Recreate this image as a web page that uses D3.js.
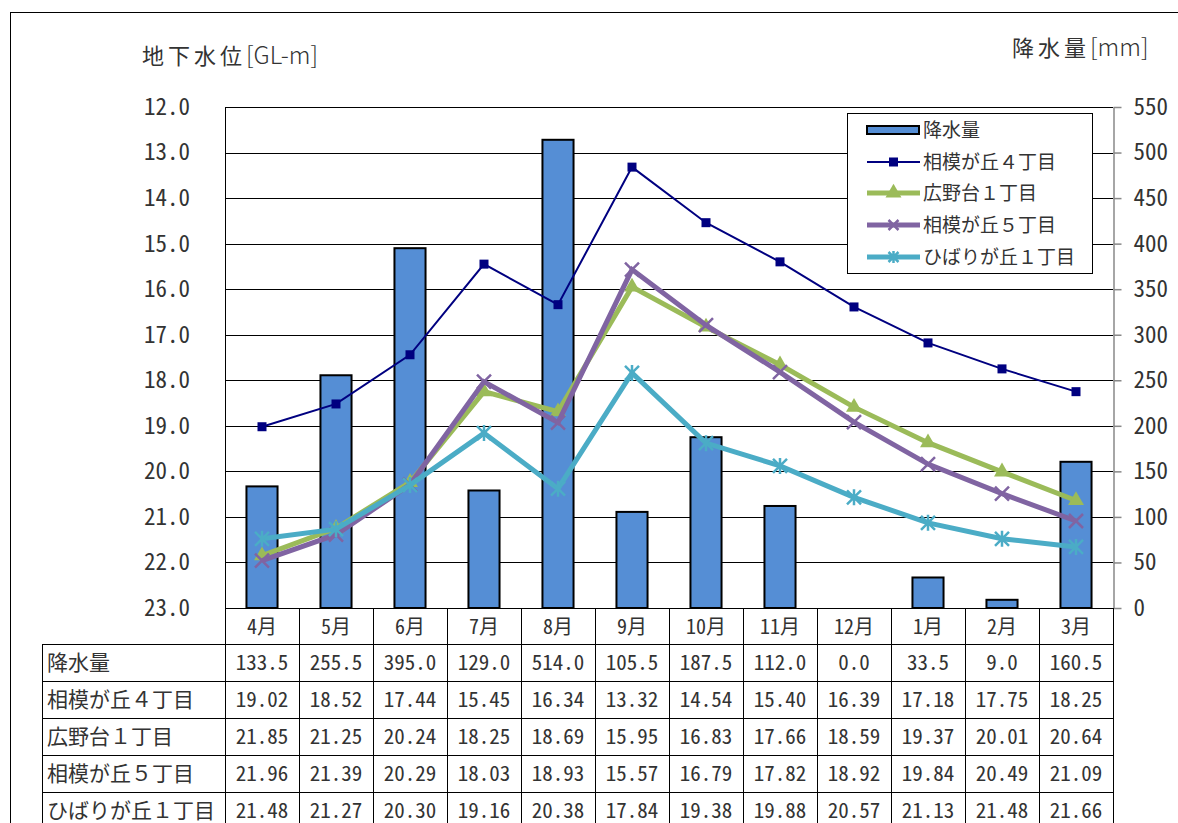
<!DOCTYPE html>
<html><head><meta charset="utf-8">
<script src="https://cdn.jsdelivr.net/npm/d3@7"></script>
<style>
html,body{margin:0;padding:0;background:#fff;overflow:hidden;}
svg{display:block;}
</style></head>
<body>
<svg id="chart" width="1178" height="823"></svg>
<script>
// ---------- data ----------
const months = ["4月","5月","6月","7月","8月","9月","10月","11月","12月","1月","2月","3月"];
const rainLabel = "降水量";
const rain = [133.5,255.5,395.0,129.0,514.0,105.5,187.5,112.0,0.0,33.5,9.0,160.5];
const seriesNames = ["相模が丘４丁目","広野台１丁目","相模が丘５丁目","ひばりが丘１丁目"];
const sagamigaoka4 = [19.02,18.52,17.44,15.45,16.34,13.32,14.54,15.40,16.39,17.18,17.75,18.25];
const hironodai1  = [21.85,21.25,20.24,18.25,18.69,15.95,16.83,17.66,18.59,19.37,20.01,20.64];
const sagamigaoka5 = [21.96,21.39,20.29,18.03,18.93,15.57,16.79,17.82,18.92,19.84,20.49,21.09];
const hibarigaoka1 = [21.48,21.27,20.30,19.16,20.38,17.84,19.38,19.88,20.57,21.13,21.48,21.66];
const leftTicks = [12,13,14,15,16,17,18,19,20,21,22,23];
const rightTicks = [0,50,100,150,200,250,300,350,400,450,500,550];
const leftTitle = ["地下水位", "[GL-m]"];
const rightTitle = ["降水量", "[mm]"];

// ---------- styles ----------
const FONT = "'Noto Sans Mono CJK JP','Noto Sans CJK JP',sans-serif";
const PFONT = "'Noto Sans CJK JP',sans-serif";
const TXT = "#333";
const series = [
  {name: seriesNames[0], values: sagamigaoka4, color: "#000080", width: 2, marker: "square"},
  {name: seriesNames[1], values: hironodai1,  color: "#9BBB59", width: 5, marker: "triangle"},
  {name: seriesNames[2], values: sagamigaoka5, color: "#8064A2", width: 5, marker: "x"},
  {name: seriesNames[3], values: hibarigaoka1, color: "#4BACC6", width: 5, marker: "star"}
];
const BAR = "#558ED5";

const svg = d3.select("#chart").style("font-family", FONT);
const L = 225, R = 1113, T = 107, B = 608;

// outer frame
svg.append("rect").attr("x",10.5).attr("y",12.5).attr("width",1200).attr("height",900)
  .attr("fill","none").attr("stroke","#000").attr("stroke-width",1);

const x = d3.scaleBand().domain(months).range([L, R]);
const yL = d3.scaleLinear().domain([12, 23]).range([T, B]);
const yR = d3.scaleLinear().domain([0, 550]).range([B, T]);
const cx = m => x(m) + x.bandwidth()/2;

// grid
svg.append("g").selectAll("line").data(leftTicks).join("line")
  .attr("x1", L).attr("x2", R)
  .attr("y1", d => Math.round(yL(d)) + 0.5).attr("y2", d => Math.round(yL(d)) + 0.5)
  .attr("stroke","#000").attr("stroke-width",1);
svg.append("line").attr("x1",L+0.5).attr("x2",L+0.5).attr("y1",T).attr("y2",B)
  .attr("stroke","#000");

// left axis labels
const gl = svg.append("g").attr("transform", `translate(${L},0)`)
  .call(d3.axisLeft(yL).tickValues(leftTicks).tickFormat(d3.format(".1f")).tickSize(0).tickPadding(35));
gl.select(".domain").remove();
gl.selectAll("text").attr("font-size", 23).attr("font-family", FONT).attr("fill",TXT);

// right axis
const gr = svg.append("g").attr("transform", `translate(${R+0.5},0)`)
  .call(d3.axisRight(yR).tickValues(rightTicks).tickSize(8).tickSizeOuter(0).tickPadding(12));
gr.select(".domain").attr("stroke","#888").attr("stroke-width",1.5);
gr.selectAll(".tick line").attr("stroke","#888").attr("stroke-width",1.5);
gr.selectAll("text").attr("font-size", 23).attr("font-family", FONT).attr("fill",TXT);

// titles
function title(xp, yp, parts){
  const t = svg.append("text").attr("x",xp).attr("y",yp).attr("fill",TXT);
  t.append("tspan").attr("font-size",22).attr("letter-spacing","4px").text(parts[0]);
  t.append("tspan").attr("font-size",24).attr("font-family",PFONT).attr("font-weight",300).text(parts[1]);
}
title(142, 64, leftTitle);
title(1012, 56, rightTitle);

// bars
const bw = x.bandwidth()*0.42;
svg.append("g").selectAll("rect").data(months.map((m,i)=>({m, v: rain[i]})).filter(d=>d.v>0)).join("rect")
  .attr("x", d => cx(d.m) - bw/2).attr("width", bw)
  .attr("y", d => yR(d.v)).attr("height", d => yR(0) - yR(d.v))
  .attr("fill", BAR).attr("stroke","#000").attr("stroke-width",2);

// markers
function marker(g, type, color, px, py, s){
  if (type === "square") {
    g.append("rect").attr("x",px-4.5).attr("y",py-4.5).attr("width",9).attr("height",9).attr("fill",color);
  } else if (type === "triangle") {
    g.append("path").attr("d", d3.symbol(d3.symbolTriangle, 110)()).attr("transform",`translate(${px},${py})`)
      .attr("fill",color);
  } else if (type === "x") {
    const r = s||7;
    g.append("path").attr("d",`M${px-r},${py-r}L${px+r},${py+r}M${px-r},${py+r}L${px+r},${py-r}`)
      .attr("stroke",color).attr("stroke-width",2.5).attr("fill","none");
  } else if (type === "star") {
    const r = s||7;
    g.append("path").attr("d",`M${px-r},${py-r}L${px+r},${py+r}M${px-r},${py+r}L${px+r},${py-r}M${px},${py-r-1}L${px},${py+r+1}`)
      .attr("stroke",color).attr("stroke-width",2.5).attr("fill","none");
  }
}

// lines
const line = d3.line().x((d,i)=>cx(months[i])).y(d=>yL(d));
series.forEach(s => {
  const g = svg.append("g");
  g.append("path").attr("d", line(s.values)).attr("fill","none").attr("stroke", s.color)
    .attr("stroke-width", s.width).attr("stroke-linejoin","miter");
  s.values.forEach((v,i) => marker(g, s.marker, s.color, cx(months[i]), yL(v)));
});

// legend
const lg = svg.append("g");
lg.append("rect").attr("x",847.5).attr("y",113.5).attr("width",245).attr("height",160)
  .attr("fill","#fff").attr("stroke","#000").attr("stroke-width",1);
const legY = [130, 162, 193, 225, 257];
lg.append("rect").attr("x",867).attr("y",legY[0]-4).attr("width",52).attr("height",8)
  .attr("fill",BAR).attr("stroke","#000").attr("stroke-width",2);
lg.append("text").attr("x",923).attr("y",legY[0]).attr("dy","0.36em").attr("font-size",19).attr("fill",TXT).text(rainLabel);
series.forEach((s,i) => {
  const yy = legY[i+1];
  lg.append("line").attr("x1",867).attr("x2",920).attr("y1",yy).attr("y2",yy)
    .attr("stroke",s.color).attr("stroke-width",s.width);
  marker(lg, s.marker, s.color, 893.5, yy, 5);
  lg.append("text").attr("x",923).attr("y",yy).attr("dy","0.36em").attr("font-size",19).attr("fill",TXT).text(s.name);
});

// data table
const tb = svg.append("g");
const TL = 42, headTop = 608, headBot = 644, rowH = 37;
const rows = [{label: rainLabel, vals: rain.map(v=>v.toFixed(1))}]
  .concat(series.map(s => ({label: s.name, vals: s.values.map(v=>v.toFixed(2))})));
const tableBottom = headBot + rowH*rows.length;
tb.append("line").attr("x1",L).attr("x2",R).attr("y1",headTop+0.5).attr("y2",headTop+0.5).attr("stroke","#000");
months.forEach(m => {
  tb.append("text").attr("x",cx(m)).attr("y",(headTop+headBot)/2+1).attr("dy","0.36em")
    .attr("text-anchor","middle").attr("font-size",20).attr("fill",TXT).text(m);
});
for (let i=0;i<=rows.length;i++){
  const yy = headBot + rowH*i + 0.5;
  tb.append("line").attr("x1",TL).attr("x2",R).attr("y1",yy).attr("y2",yy).attr("stroke","#000");
}
tb.append("line").attr("x1",TL+0.5).attr("x2",TL+0.5).attr("y1",headBot).attr("y2",tableBottom).attr("stroke","#000");
months.concat([null]).forEach((m,i) => {
  const xx = (m ? x(m) : R) ;
  tb.append("line").attr("x1",Math.round(xx)+0.5).attr("x2",Math.round(xx)+0.5)
    .attr("y1",headTop).attr("y2",tableBottom).attr("stroke","#000");
});
rows.forEach((r,ri) => {
  const yy = headBot + rowH*ri + rowH/2;
  tb.append("text").attr("x",TL+5).attr("y",yy).attr("dy","0.36em").attr("font-size",21).attr("fill",TXT).text(r.label);
  r.vals.forEach((v,i) => {
    tb.append("text").attr("x",cx(months[i])).attr("y",yy).attr("dy","0.36em")
      .attr("text-anchor","middle").attr("font-size",21).attr("fill",TXT).text(v);
  });
});
</script>
</body></html>
